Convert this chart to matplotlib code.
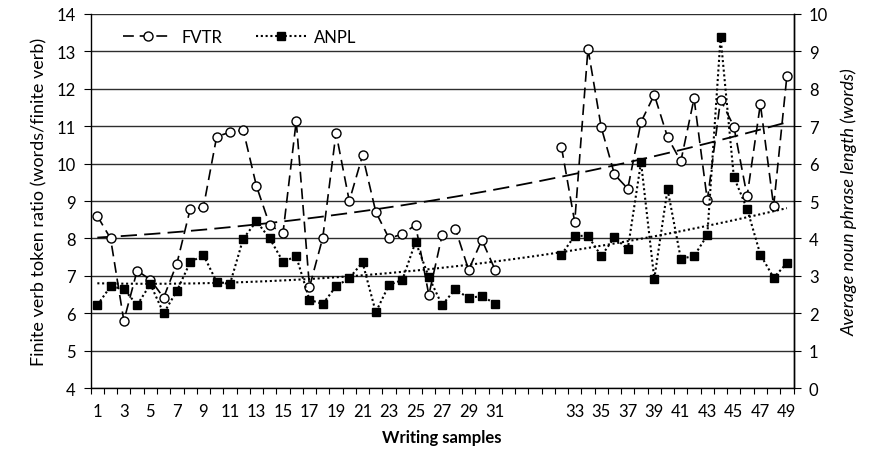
import numpy as np
import matplotlib
matplotlib.use("Agg")
import matplotlib.pyplot as plt
from matplotlib.lines import Line2D

plt.rcParams['font.family'] = ['Lato', 'DejaVu Sans']

# writing samples 1-31, then four empty slots, then 32-49 (categorical axis)
samples = list(range(1, 50))
n_blank = 4

fvtr = [8.6, 8.0, 5.8, 7.14, 6.9, 6.42, 7.33, 8.78, 8.83, 10.72,
        10.84, 10.9, 9.4, 8.36, 8.14, 11.14, 6.7, 8.02, 10.82, 9.0,
        10.22, 8.71, 8.0, 8.12, 8.36, 6.49, 8.09, 8.26, 7.16, 7.96,
        7.16,
        10.44, 8.44, 13.07, 10.97, 9.71, 9.33, 11.11, 11.84, 10.71,
        10.06, 11.74, 9.02, 11.71, 10.99, 9.13, 11.59, 8.86, 12.34]

anpl = [2.22, 2.72, 2.65, 2.22, 2.78, 2.0, 2.6, 3.36, 3.56, 2.84,
        2.78, 3.99, 4.46, 4.0, 3.38, 3.52, 2.36, 2.25, 2.72, 2.94,
        3.36, 2.03, 2.76, 2.89, 3.91, 2.97, 2.22, 2.65, 2.4, 2.47,
        2.25,
        3.57, 4.07, 4.07, 3.53, 4.03, 3.71, 6.04, 2.92, 5.32, 3.46,
        3.53, 4.09, 9.38, 5.64, 4.79, 3.57, 2.95, 3.34]

# build the category axis with the empty slots
cats = [str(s) for s in samples[:31]] + [""] * n_blank + [str(s) for s in samples[31:]]
nan_gap = [np.nan] * n_blank
fvtr_y = np.array(fvtr[:31] + nan_gap + fvtr[31:], dtype=float)
anpl_y = np.array(anpl[:31] + nan_gap + anpl[31:], dtype=float)
x = np.arange(len(cats))


def trend(y, deg=2):
    # polynomial trend line, like the spreadsheet one
    ok = ~np.isnan(y)
    coef = np.polyfit(x[ok] + 1, y[ok], deg)
    xs = np.linspace(0, len(cats) - 1, 200)
    return xs, np.polyval(coef, xs + 1)


fs_tick = 12
fs_lab = 13

fig, ax = plt.subplots(figsize=(8.72, 4.52), dpi=100)
fig.subplots_adjust(left=0.104, right=0.91, top=0.967, bottom=0.139)
ax2 = ax.twinx()

grid_c = '#2e2e2e'
for v in range(4, 15):
    ax.axhline(v, color=grid_c, lw=1.0, zorder=0)

ax.plot(x, fvtr_y, color='black', lw=1.2, ls=(0, (6.5, 3.5)), marker='o',
        ms=6.5, mfc='white', mec='black', mew=1.0, zorder=3)
tx, ty = trend(fvtr_y)
ax.plot(tx, ty, color='black', lw=1.3, ls=(0, (9, 4)), zorder=2)

ax2.plot(x, anpl_y, color='black', lw=1.5, ls=(0, (1, 1.3)), marker='s',
         ms=5.5, mfc='black', mec='black', zorder=3)
tx2, ty2 = trend(anpl_y)
ax2.plot(tx2, ty2, color='black', lw=1.5, ls=(0, (1, 1.3)), zorder=2)

ax.set_ylim(4, 14)
ax2.set_ylim(0, 10)
ax.set_yticks(range(4, 15))
ax2.set_yticks(range(0, 11))
ax.set_xlim(-0.5, len(cats) - 0.5)

# tick marks between categories, labels every second category
ax.set_xticks(np.arange(-0.5, len(cats), 1.0))
ax.set_xticklabels([])
ax.set_xticks(x[::2], [cats[i] for i in x[::2]], minor=True)
ax.tick_params(axis='x', which='major', length=4, width=0.8, direction='out')
ax.tick_params(axis='x', which='minor', length=0, pad=11, labelsize=fs_tick)
ax.tick_params(axis='y', length=5, width=0.8, pad=6, labelsize=fs_tick)
ax2.tick_params(axis='y', length=5, width=0.8, pad=6, labelsize=fs_tick)

for a in (ax, ax2):
    a.spines['top'].set_visible(False)
    for s in a.spines.values():
        s.set_linewidth(1.0)
ax2.spines['left'].set_visible(False)
ax2.spines['bottom'].set_visible(False)

ax.set_xlabel("Writing samples", fontsize=12, fontweight='bold', labelpad=7)
ax.set_ylabel("Finite verb token ratio (words/finite verb)", fontsize=fs_lab, labelpad=6)
ax2.set_ylabel("Average noun phrase length (words)", fontsize=fs_lab, style='italic', labelpad=9)

handles = [
    Line2D([], [], color='black', lw=1.2, ls=(0, (6.5, 3.5)), marker='o', ms=6.5,
           mfc='white', mec='black'),
    Line2D([], [], color='black', lw=1.5, ls=(0, (1, 1.3)), marker='s', ms=5.5,
           mfc='black', mec='black'),
]
ax2.legend(handles, ["FVTR", "ANPL"], loc='upper left', bbox_to_anchor=(0.025, 1.0),
           ncol=2, frameon=False, fontsize=fs_tick, handlelength=3.0,
           columnspacing=2.0, handletextpad=0.5)

fig.savefig("out.png", dpi=100)
